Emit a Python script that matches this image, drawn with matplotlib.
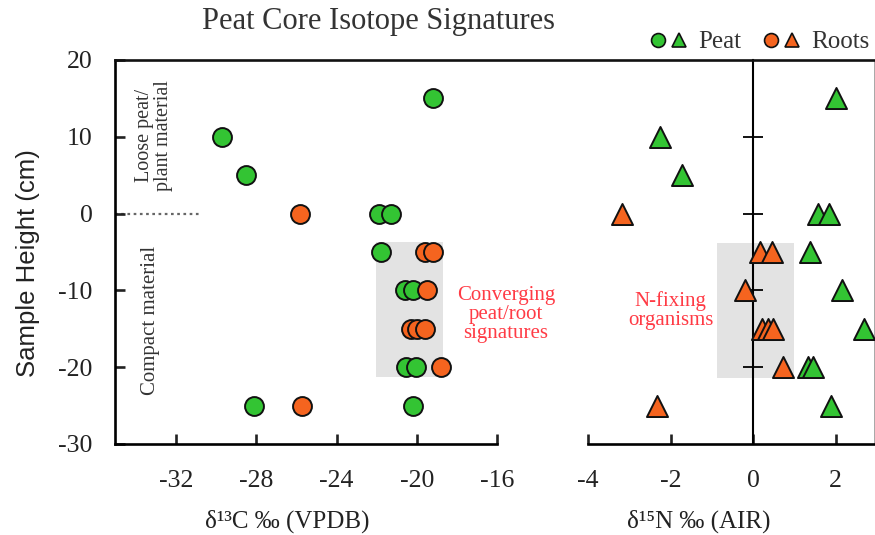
import matplotlib
matplotlib.use('Agg')
import matplotlib.pyplot as plt
from matplotlib.lines import Line2D
from matplotlib.legend_handler import HandlerTuple

# ── data ────────────────────────────────────────
c13_peat_x = [-19.2, -29.7, -28.5, -21.9, -21.3, -21.8, -20.6, -20.2, -20.55, -20.05, -28.1, -20.2]
c13_peat_y = [15, 10, 5, 0, 0, -5, -10, -10, -20, -20, -25, -25]
c13_root_x = [-25.8, -19.6, -19.2, -19.5, -20.3, -20.0, -19.6, -18.8, -25.7]
c13_root_y = [0, -5, -5, -10, -15, -15, -15, -20, -25]

n15_peat_x = [2.0, -2.25, -1.73, 1.57, 1.85, 1.38, 2.15, 2.69, 1.34, 1.45, 1.88]
n15_peat_y = [15, 10, 5, 0, 0, -5, -10, -15, -20, -20, -25]
n15_root_x = [-3.18, 0.17, 0.45, -0.19, 0.21, 0.37, 0.49, 0.73, -2.32]
n15_root_y = [0, -5, -5, -10, -15, -15, -15, -20, -25]

c13_ticks = [-32, -28, -24, -20, -16]
n15_ticks = [-4, -2, 0, 2]
y_ticks = [20, 10, 0, -10, -20, -30]

GREEN = '#33c433'
ORANGE = '#f5641f'
RED_TXT = '#ff3b45'
INK = '#222222'
SERIF = ['Liberation Serif', 'DejaVu Serif']

plt.rcParams['font.family'] = SERIF

fig = plt.figure(figsize=(8.75, 5.35), dpi=100)
ax1 = fig.add_axes([115/875, 91/535, 382/875, 384/535])
ax2 = fig.add_axes([588/875, 91/535, 286/875, 384/535])

# ── left panel: d13C ─────────────────────────────
ax1.fill_betweenx([-21.3, -3.7], -22.05, -18.7, color='#e3e3e3', lw=0, zorder=0)
ax1.plot([-35.05, -30.8], [0, 0], ls=(0, (1.2, 1.6)), color='#666666', lw=1.6, zorder=1)
ax1.scatter(c13_peat_x, c13_peat_y, s=185, marker='o', c=GREEN, edgecolors='#111111',
            linewidths=1.4, zorder=3)
ax1.scatter(c13_root_x, c13_root_y, s=185, marker='o', c=ORANGE, edgecolors='#111111',
            linewidths=1.4, zorder=4)
ax1.set_xlim(-35.05, -16)
ax1.set_ylim(-30, 20)
ax1.set_xticks(c13_ticks)
ax1.set_yticks(y_ticks)
ax1.set_xticklabels([f'{t}' for t in c13_ticks])
ax1.set_yticklabels([f'{t}' for t in y_ticks])
ax1.spines['right'].set_visible(False)
ax1.spines['top'].set_visible(False)
for s in ['left', 'bottom']:
    ax1.spines[s].set_linewidth(1.9)
ax1.tick_params(axis='both', direction='in', length=7, width=1.9, labelsize=18.5,
                colors=INK)
ax1.tick_params(axis='x', pad=19)
ax1.tick_params(axis='y', pad=16)

ax1.text(-33.1, 10.2, 'Loose peat/\nplant material', rotation=90, ha='center', va='center',
         fontsize=14.5, color='#333333', linespacing=0.95)
ax1.text(-33.3, -13.9, 'Compact material', rotation=90, ha='center', va='center',
         fontsize=15, color='#333333')
ax1.text(-15.55, -13.1, 'Converging\npeat/root\nsignatures', ha='center', va='center',
         fontsize=15, color=RED_TXT, linespacing=1.0, clip_on=False)

# ── right panel: d15N ────────────────────────────
ax2.fill_betweenx([-21.4, -3.8], -0.87, 0.98, color='#e3e3e3', lw=0, zorder=0)
ax2.scatter(n15_peat_x, n15_peat_y, s=230, marker='^', c=GREEN, edgecolors='#111111',
            linewidths=1.4, zorder=3)
ax2.scatter(n15_root_x, n15_root_y, s=230, marker='^', c=ORANGE, edgecolors='#111111',
            linewidths=1.4, zorder=4)
ax2.set_xlim(-4, 2.93)
ax2.set_ylim(-30, 20)
ax2.set_xticks(n15_ticks)
ax2.set_xticklabels([f'{t}' for t in n15_ticks])
ax2.set_yticks([10, 0, -10, -20])
ax2.spines['left'].set_position(('data', 0))
ax2.spines['left'].set_linewidth(1.5)
ax2.spines['left'].set_zorder(2)
ax2.spines['top'].set_visible(False)
ax2.spines['right'].set_linewidth(0.6)
ax2.spines['right'].set_color('#999999')
ax2.spines['bottom'].set_linewidth(1.9)
ax2.tick_params(axis='x', direction='in', length=7, width=1.9, labelsize=18.5,
                colors=INK, pad=19)
ax2.tick_params(axis='y', direction='inout', length=15, width=1.3, labelleft=False)
ax2.text(-2.0, -12.6, 'N-fixing\norganisms', ha='center', va='center',
         fontsize=15, color=RED_TXT, linespacing=1.0)

# continuous top border over both panels
fig.add_artist(Line2D([115/875, 1.0], [475/535, 475/535], color='#111111', lw=1.9))

# ── labels / title / legend ─────────────────────
fig.text(378/875, 1 - 22/535, 'Peat Core Isotope Signatures', ha='center', va='center',
         fontsize=22, color='#333333')
fig.text(28/875, 1 - 263/535, 'Sample Height (cm)', rotation=90, ha='center', va='center',
         fontsize=18.5, color=INK, family=['Liberation Sans', 'DejaVu Sans'])
fig.text(287/875, 1 - 521/535, 'δ¹³C ‰ (VPDB)', ha='center', va='center',
         fontsize=18, color=INK)
fig.text(699/875, 1 - 521/535, 'δ¹⁵N ‰ (AIR)', ha='center', va='center',
         fontsize=18, color=INK)

def mk(m, col):
    return Line2D([], [], ls='none', marker=m, markersize=10, markerfacecolor=col,
                  markeredgecolor='#111111', markeredgewidth=1.2)

handles = [(mk('o', GREEN), mk('^', GREEN)), (mk('o', ORANGE), mk('^', ORANGE))]
fig.legend(handles, ['Peat', 'Roots'], handler_map={tuple: HandlerTuple(ndivide=None, pad=0.1)},
           loc='center right', bbox_to_anchor=(1.008, 1 - 42/535), ncol=2, frameon=False,
           fontsize=18, handlelength=1.6, handletextpad=0.4, columnspacing=0.8,
           borderpad=0, labelcolor='#333333')

fig.savefig('out.png', dpi=100)
